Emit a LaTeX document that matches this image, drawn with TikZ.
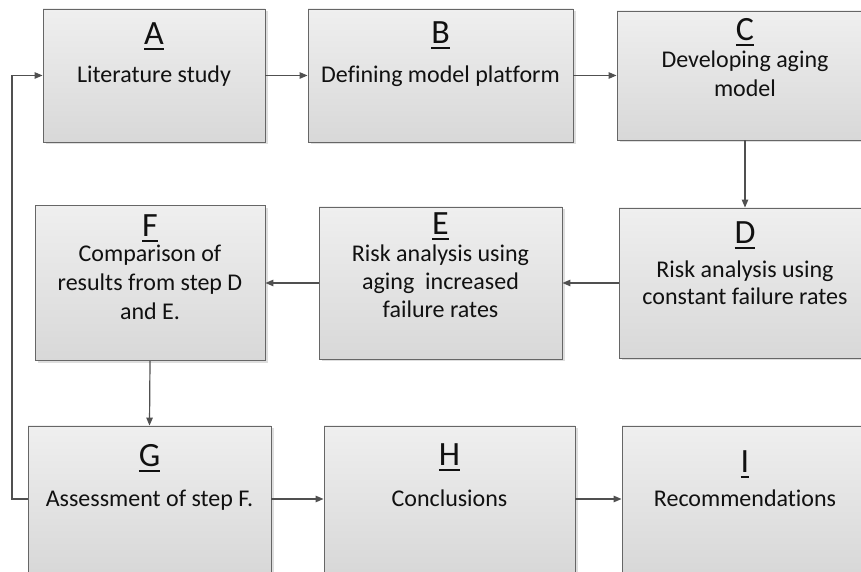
\documentclass[tikz,border=0pt]{standalone}
\usepackage{fontspec}
\setmainfont{Carlito}[Ligatures=NoCommon]
\usetikzlibrary{arrows.meta,shadows}

\definecolor{boxedge}{HTML}{666666}
\definecolor{boxtop}{HTML}{EFEFEF}
\definecolor{boxbottom}{HTML}{D8D8D8}
\definecolor{linkcol}{HTML}{505050}
\definecolor{inkcol}{HTML}{111111}

% thick underline for the step letters
\newcommand{\stepletter}[1]{\setbox0\hbox{#1}\rlap{\rule[-5pt]{\wd0}{2.3pt}}\box0}

\tikzset{
  stepbox/.style={draw=boxedge, line width=0.9pt, rectangle, inner sep=0pt,
    top color=boxtop, bottom color=boxbottom,
    drop shadow={shadow xshift=2.5pt, shadow yshift=-2.5pt, fill=black!25, opacity=0.5}},
  letter/.style={anchor=base, inner sep=0pt, text=inkcol,
    font=\fontsize{34}{40}\selectfont},
  body/.style={anchor=base, inner sep=0pt, text=inkcol,
    font=\fontsize{24}{28}\selectfont},
  link/.style={draw=linkcol, line width=1.2pt,
    -{Triangle[length=8pt,width=6.5pt]}}
}

\begin{document}
\begin{tikzpicture}[x=1pt,y=1pt]
\clip (0,0) rectangle (861,572);
\fill[white] (0,0) rectangle (861,572);

% boxes
\node[stepbox, minimum width=222pt, minimum height=133pt] (A) at (154,496.5) {};
\node[stepbox, minimum width=265pt, minimum height=133pt] (B) at (440.5,496.5) {};
\node[stepbox, minimum width=256pt, minimum height=129pt] (C) at (745,496.5) {};
\node[stepbox, minimum width=252pt, minimum height=150pt] (D) at (745,289) {};
\node[stepbox, minimum width=243pt, minimum height=152pt] (E) at (440.5,289) {};
\node[stepbox, minimum width=230pt, minimum height=155pt] (F) at (150,289) {};
\node[stepbox, minimum width=243pt, minimum height=146pt] (G) at (149.5,73) {};
\node[stepbox, minimum width=251pt, minimum height=146pt] (H) at (449.5,73) {};
\node[stepbox, minimum width=246pt, minimum height=146pt] (I) at (745,73) {};

% labels
\node[letter] (A-l) at (154,527) {\stepletter{A}};
\node[body]   (A-1) at (154,489) {Literature study};

\node[letter] (B-l) at (440.5,528) {\stepletter{B}};
\node[body]   (B-1) at (440.5,489) {Defining model platform};

\node[letter] (C-l) at (745,531) {\stepletter{C}};
\node[body]   (C-1) at (745,504) {Developing aging};
\node[body]   (C-2) at (745,475) {model};

\node[letter] (D-l) at (745,328) {\stepletter{D}};
\node[body]   (D-1) at (745,294) {Risk analysis using};
\node[body]   (D-2) at (745,267) {constant failure rates};

\node[letter] (E-l) at (440.5,337) {\stepletter{E}};
\node[body]   (E-1) at (440.5,310) {Risk analysis using};
\node[body]   (E-2) at (440.5,282) {aging\ \ increased};
\node[body]   (E-3) at (440.5,254) {failure rates};

\node[letter] (F-l) at (150,335) {\stepletter{F}};
\node[body]   (F-1) at (150,310) {Comparison of};
\node[body]   (F-2) at (150,281) {results from step D};
\node[body]   (F-3) at (150,252) {and E.};

\node[letter] (G-l) at (149.5,105) {\stepletter{G}};
\node[body]   (G-1) at (149.5,65) {Assessment of step F.};

\node[letter] (H-l) at (449.5,106) {\stepletter{H}};
\node[body]   (H-1) at (449.5,65) {Conclusions};

\node[letter] (I-l) at (745,99) {\stepletter{I}};
\node[body]   (I-1) at (745,65) {Recommendations};

% connectors
\draw[link] (A.east) -- (B.west);
\draw[link] (B.east) -- (C.west);
\draw[link] (C.south) -- (D.north);
\draw[link] (D.west) -- (E.east);
\draw[link] (E.west) -- (F.east);
\draw[link] (F.south) -- (G.north);
\draw[link] (G.east) -- (H.west);
\draw[link] (H.east) -- (I.west);

% feedback loop from G back to A
\coordinate (loop) at (12,496.5);
\draw[link] (G.west) -| (loop) -- (A.west);
\end{tikzpicture}
\end{document}
